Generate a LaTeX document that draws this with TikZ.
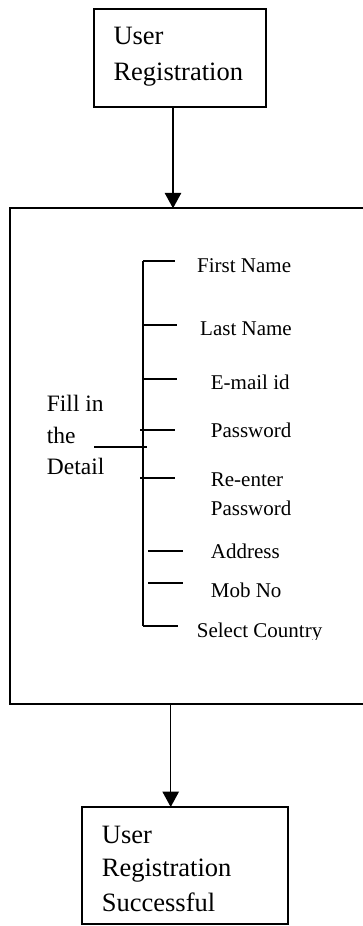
\documentclass[tikz,border=0pt]{standalone}
\usepackage{fontspec}
\setmainfont{Liberation Serif}
\usetikzlibrary{arrows.meta}
\begin{document}
\begin{tikzpicture}[x=1pt,y=-1pt,
  box/.style={draw,line width=1.8pt,inner sep=0pt,outer sep=0pt},
  arr/.style={line width=1.5pt,-{Triangle[width=16.5pt,length=15.5pt]}},
  big/.style={font=\fontsize{26.5}{32}\selectfont,anchor=base west,inner sep=0pt},
  mid/.style={font=\fontsize{23.5}{28}\selectfont,anchor=base west,inner sep=0pt},
  item/.style={font=\fontsize{21}{25}\selectfont,anchor=base west,inner sep=0pt},
  tree/.style={line width=1.9pt}]
\useasboundingbox (0,0) rectangle (363,926);
\clip (0,0) rectangle (363,926);
% boxes
\node[box,minimum width=172pt,minimum height=98pt] (top) at (180,58) {};
\node[box,minimum width=362pt,minimum height=496pt] (main) at (191,456.3) {};
\node[box,minimum width=206pt,minimum height=117pt] (bot) at (184.7,865.5) {};
% texts
\node[big] (t1) at (113.3,44) {User};
\node[big] (t2) at (113.3,80) {Registration};
\node[big] (b1) at (101.7,843) {User};
\node[big] (b2) at (101.7,876.7) {Registration};
\node[big] (b3) at (101.7,911.7) {Successful};
\node[mid] (f1) at (46.7,411.7) {Fill in};
\node[mid] (f2) at (46.7,443) {the};
\node[mid] (f3) at (46.7,474.3) {Detail};
\node[item] (i1) at (197,272.7) {First Name};
\node[item] (i2) at (200,335) {Last Name};
\node[item] (i3) at (210.7,389) {E-mail id};
\node[item] (i4) at (210.7,437) {Password};
\node[item] (i5) at (210.7,486.7) {Re-enter};
\node[item] (i5b) at (210.7,515) {Password};
\node[item] (i6) at (210.7,558.3) {Address};
\node[item] (i7) at (210.7,597.3) {Mob No};
\begin{scope}
\clip (190,600) rectangle (363,639.5);
\node[item] (i8) at (196.7,637) {Select Country};
\end{scope}
% arrows
\coordinate (ax1) at (173,0);
\coordinate (ax2) at (170.7,0);
\draw[arr] (top.south -| ax1) -- (main.north -| ax1);
\draw[arr] (main.south -| ax2) -- (bot.north -| ax2);
% tree
\draw[tree] (143,260.7) -- (143,625.7);
\draw[tree] (143,260.7) -- (175,260.7);
\draw[tree] (143,325) -- (177,325);
\draw[tree] (143,379) -- (177,379);
\draw[tree] (140,429.7) -- (175,429.7);
\draw[tree] (94,447) -- (146.7,447);
\draw[tree] (140,477.7) -- (175,477.7);
\draw[tree] (148,551) -- (183,551);
\draw[tree] (148,583) -- (183,583);
\draw[tree] (143,625.7) -- (178,625.7);
\end{tikzpicture}
\end{document}
